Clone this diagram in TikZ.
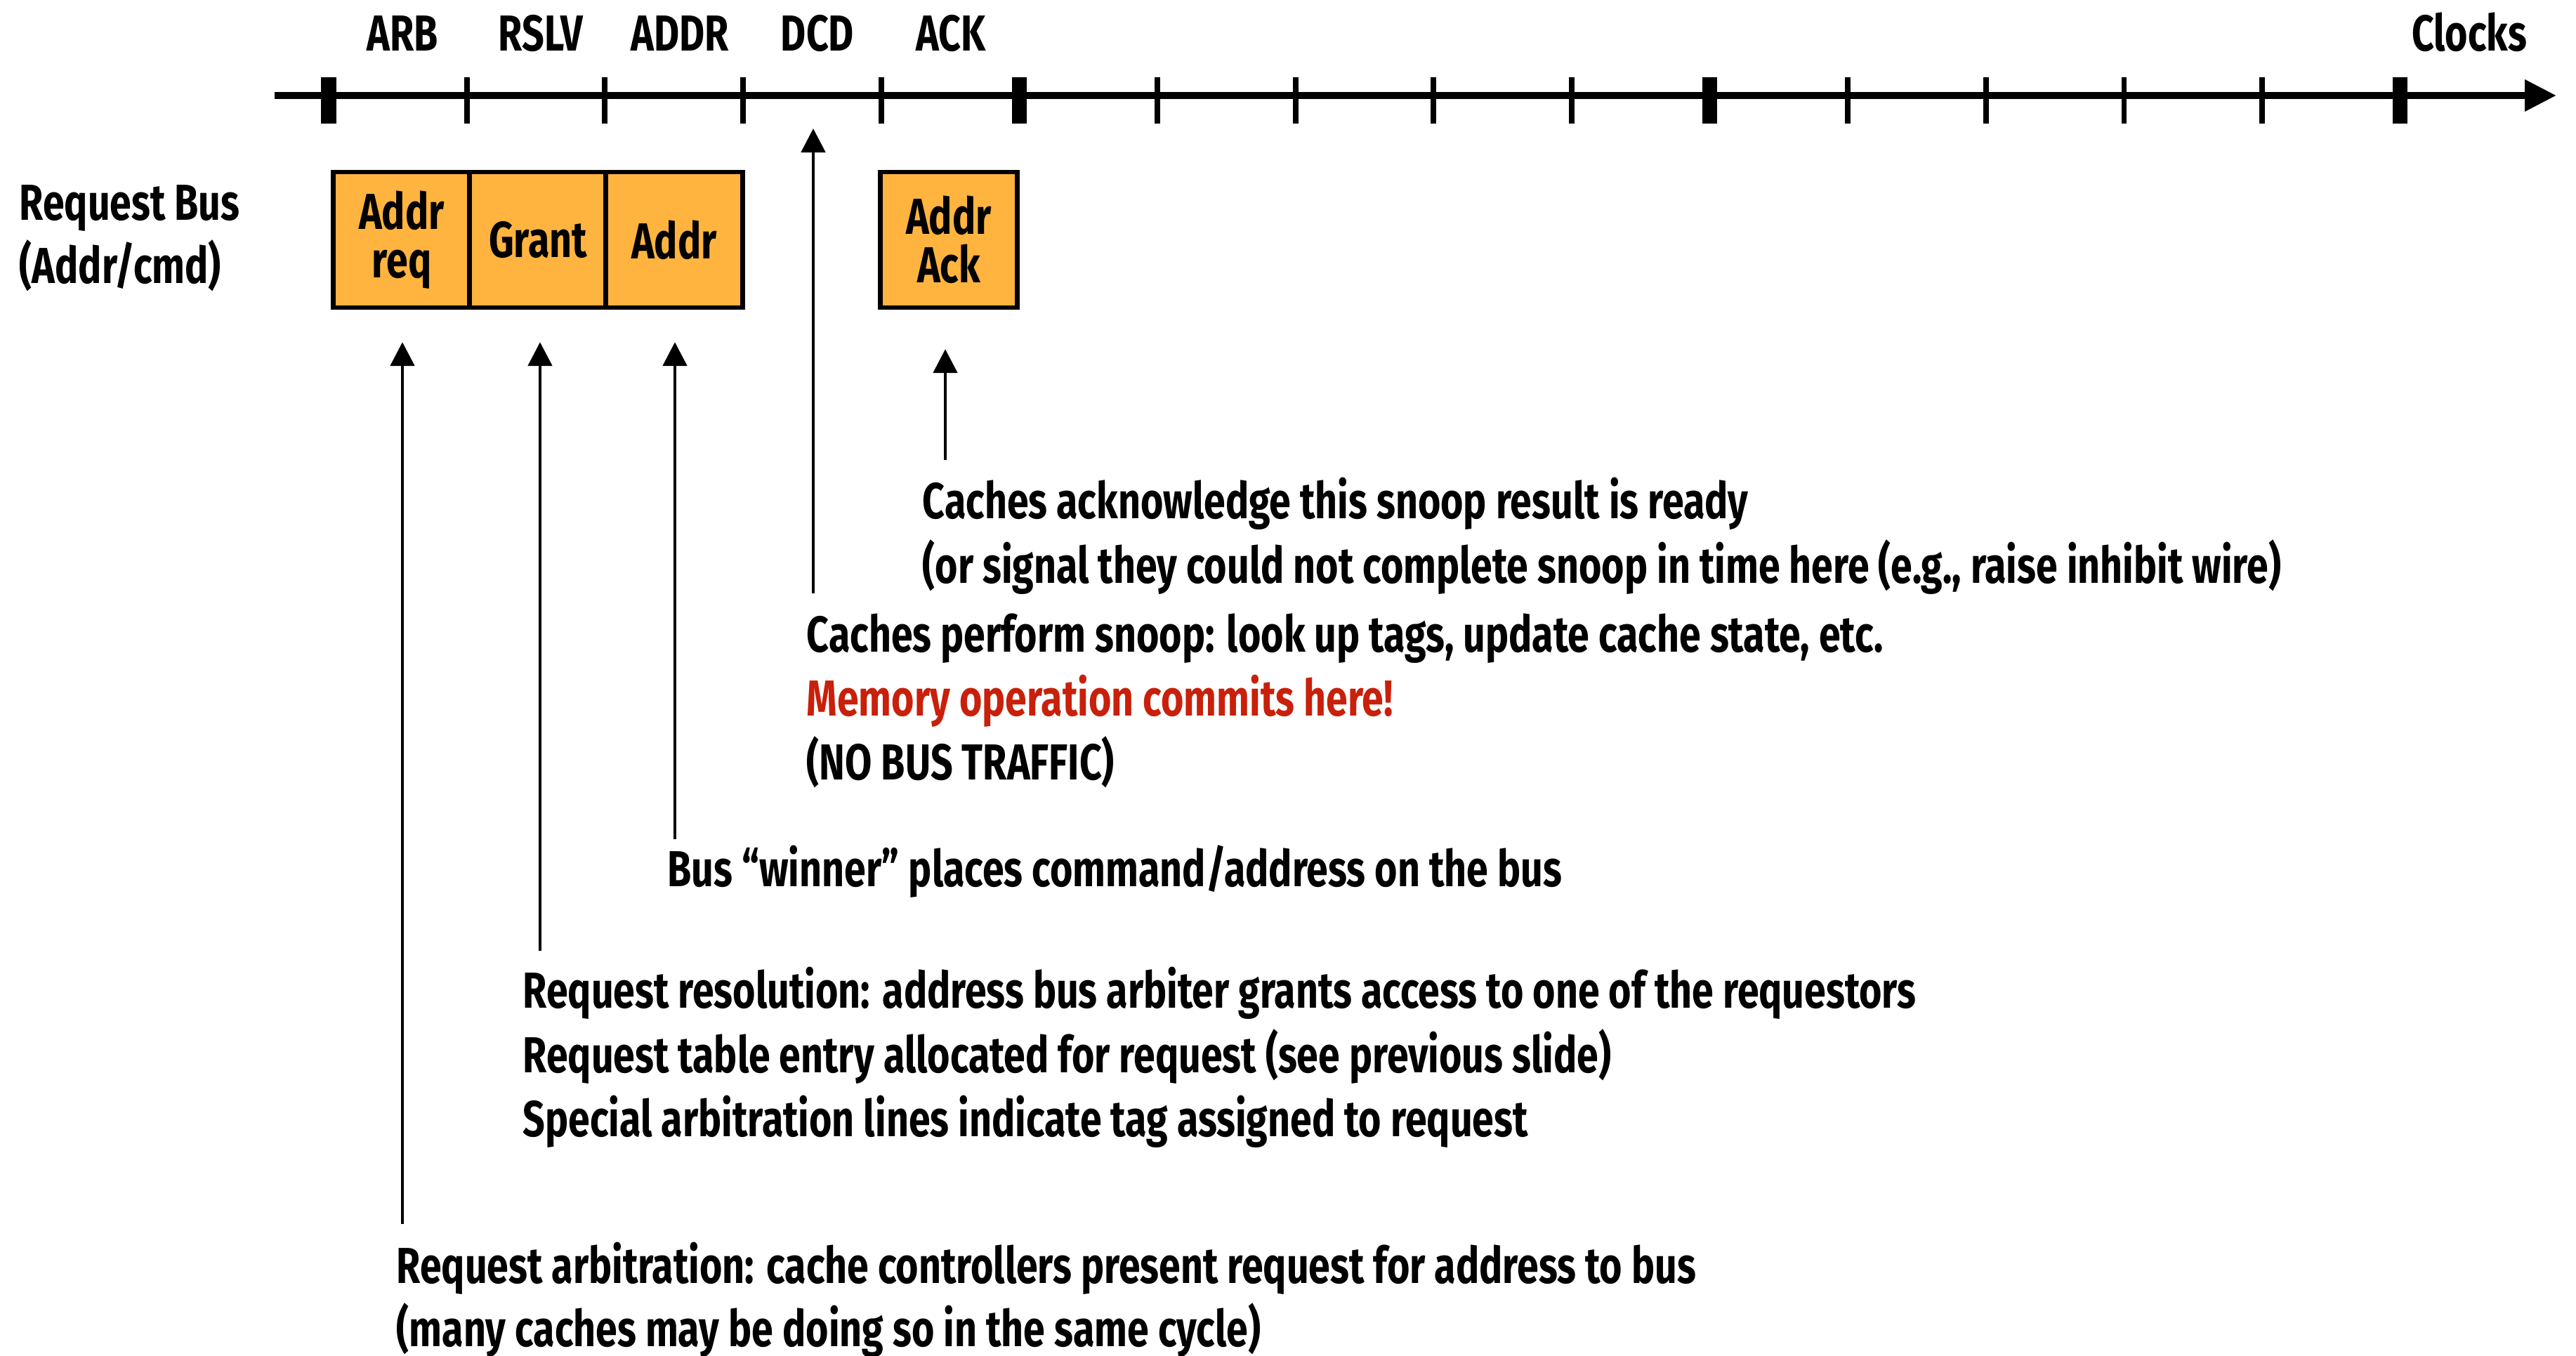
\documentclass[tikz,border=0pt]{standalone}
\usepackage{fontspec}
\usepackage{tikz}
\usetikzlibrary{arrows.meta}
\setmainfont{Fira Sans}[UprightFont=* Bold, FakeStretch=0.77]
\definecolor{boxorange}{RGB}{255,180,63}
\definecolor{commitred}{RGB}{200,32,10}

\begin{document}
\begin{tikzpicture}[
  txt/.style={anchor=base west, inner sep=0, font=\fontsize{20.5}{26}\selectfont},
  lbl/.style={inner sep=0, font=\fontsize{20.5}{26}\selectfont},
  busbox/.style={draw=black, line width=1.8pt, fill=boxorange, minimum width=1.95cm, minimum height=1.93cm, inner sep=0, align=center, font=\fontsize{20.5}{26}\selectfont},
  note/.style={->, line width=1.4pt, >={Triangle[length=3.4mm,width=3.4mm]}},
  minortick/.style={line width=2.2pt},
  majortick/.style={line width=6pt}
]
\useasboundingbox (0,0) rectangle (36.68,-19.31);

% time axis
\draw[line width=2.9pt, -{Triangle[length=4.5mm,width=4.3mm]}] (3.91,-1.36)--(36.40,-1.36);
\foreach \i in {0,...,15} {
  \pgfmathsetmacro{\tx}{4.68+1.9666*\i}
  \ifnum\i=0 \draw[majortick] (\tx,-1.10)--(\tx,-1.76);
  \else\ifnum\i=5 \draw[majortick] (\tx,-1.10)--(\tx,-1.76);
  \else\ifnum\i=10 \draw[majortick] (\tx,-1.10)--(\tx,-1.76);
  \else\ifnum\i=15 \draw[majortick] (\tx,-1.10)--(\tx,-1.76);
  \else \draw[minortick] (\tx,-1.10)--(\tx,-1.76);
  \fi\fi\fi\fi
}
\node[lbl] (arb) at (5.73,-0.48) {ARB};
\node[lbl] (rslv) at (7.70,-0.48) {RSLV};
\node[lbl] (addrlbl) at (9.68,-0.48) {ADDR};
\node[lbl] (dcd) at (11.64,-0.48) {DCD};
\node[lbl] (ack) at (13.54,-0.48) {ACK};
\node[lbl] (clocks) at (35.16,-0.46) {Clocks};

% request bus
\node[txt] (bus1) at (0.27,-3.13) {Request Bus};
\node[txt] (bus2) at (0.27,-4.03) {(Addr/cmd)};
\node[busbox] (req) at (5.72,-3.415) {Addr\\[-6.5pt]req};
\node[busbox] (grant) at (7.66,-3.415) {Grant};
\node[busbox] (addr) at (9.60,-3.415) {Addr};
\node[busbox] (addrack) at (13.51,-3.415) {Addr\\[-6.5pt]Ack};

% explanations
\node[txt] (ack1) at (13.13,-7.38) {Caches acknowledge this snoop result is ready};
\node[txt] (ack2) at (13.13,-8.30) {(or signal they could not complete snoop in time here (e.g., raise inhibit wire)};
\node[txt] (dcd1) at (11.48,-9.28) {Caches perform snoop: look up tags, update cache state, etc.};
\node[txt, text=commitred] (dcd2) at (11.48,-10.19) {Memory operation commits here!};
\node[txt] (dcd3) at (11.48,-11.10) {(NO BUS TRAFFIC)};
\node[txt] (addr1) at (9.50,-12.62) {Bus “winner” places command/address on the bus};
\node[txt] (rslv1) at (7.44,-14.35) {Request resolution: address bus arbiter grants access to one of the requestors};
\node[txt] (rslv2) at (7.44,-15.27) {Request table entry allocated for request (see previous slide)};
\node[txt] (rslv3) at (7.44,-16.18) {Special arbitration lines indicate tag assigned to request};
\node[txt] (arb1) at (5.64,-18.27) {Request arbitration: cache controllers present request for address to bus};
\node[txt] (arb2) at (5.64,-19.17) {(many caches may be doing so in the same cycle)};

% arrows
\coordinate (arbtail) at (5.73,-17.43);
\coordinate (rslvtail) at (7.69,-13.54);
\coordinate (addrtail) at (9.61,-11.95);
\coordinate (acktail) at (13.46,-6.55);
\coordinate (dcdtail) at (11.58,-8.45);
\coordinate (dcdtip) at (11.58,-1.83);
\draw[note] (arbtail)--([yshift=-0.46cm]arbtail |- req.south);
\draw[note] (rslvtail)--([yshift=-0.46cm]rslvtail |- grant.south);
\draw[note] (addrtail)--([yshift=-0.46cm]addrtail |- addr.south);
\draw[note] (acktail)--([yshift=-0.56cm]acktail |- addrack.south);
\draw[note] (dcdtail)--(dcdtip);
\end{tikzpicture}
\end{document}
